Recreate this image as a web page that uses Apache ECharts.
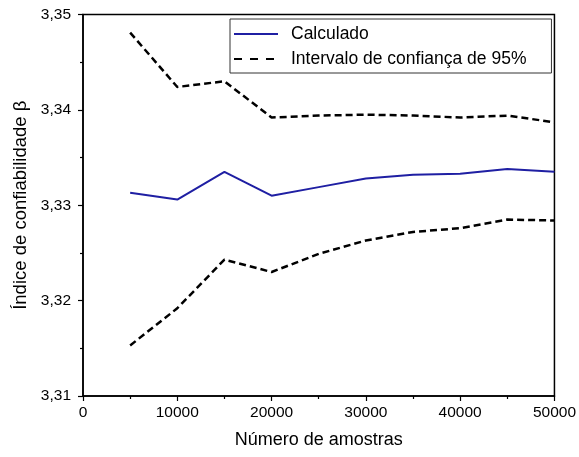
<!DOCTYPE html>
<html>
<head>
<meta charset="utf-8">
<script src="https://cdn.jsdelivr.net/npm/echarts@6/dist/echarts.min.js"></script>
<style>
html,body{margin:0;padding:0;background:#fff;}
#chart{width:579px;height:457px;}
</style>
</head>
<body>
<div id="chart"></div>
<script>
const samples = [5000, 10000, 15000, 20000, 25000, 30000, 35000, 40000, 45000, 50000];
const calculated = [3.3313, 3.3306, 3.3335, 3.3310, 3.3319, 3.3328, 3.3332, 3.3333, 3.3338, 3.3335];
const upperCI = [3.3481, 3.3424, 3.3430, 3.3392, 3.3394, 3.3395, 3.3394, 3.3392, 3.3394, 3.3387];
const lowerCI = [3.3153, 3.3192, 3.3243, 3.3230, 3.3249, 3.3263, 3.3272, 3.3276, 3.3285, 3.3284];
const seriesNames = ['Calculado', 'Intervalo de confiança de 95%'];
const xTitle = 'Número de amostras';
const yTitle = 'Índice de confiabilidade β';

const FONT = 'Liberation Sans, Arial, sans-serif';
const pair = (xs, ys) => xs.map((x, i) => [x, ys[i]]);
const dashStyle = { color: '#000', width: 2.5, type: [7, 4] };

const chart = echarts.init(document.getElementById('chart'), null, { renderer: 'canvas' });
chart.setOption({
  animation: false,
  backgroundColor: '#fff',
  grid: { left: 83, right: 22, top: 14.5, bottom: 61, show: true, borderColor: '#000', borderWidth: 1.5, backgroundColor: 'transparent' },
  legend: {
    orient: 'vertical',
    left: 230, top: 19,
    padding: [5, 25, 4, 3],
    itemGap: 5,
    itemWidth: 44,
    itemHeight: 14,
    borderColor: '#333',
    borderWidth: 1,
    backgroundColor: '#fff',
    itemStyle: { opacity: 0 },
    textStyle: { fontFamily: FONT, fontSize: 17.5, color: '#000', lineHeight: 20, padding: [0, 0, 0, 8] },
    data: [
      { name: seriesNames[0] },
      { name: seriesNames[1], lineStyle: { type: [8, 8], width: 2 } }
    ]
  },
  xAxis: {
    type: 'value', min: 0, max: 50000, interval: 10000,
    name: xTitle, nameLocation: 'middle', nameGap: 35,
    nameTextStyle: { fontFamily: FONT, fontSize: 18, color: '#000' },
    axisLine: { show: true, lineStyle: { color: '#000', width: 1.5 } },
    axisTick: { show: true, inside: false, length: 5, lineStyle: { color: '#000', width: 1.2 } },
    minorTick: { show: true, splitNumber: 2, length: 3, lineStyle: { color: '#000', width: 1.2 } },
    axisLabel: { fontFamily: FONT, fontSize: 15.5, color: '#000', margin: 9, formatter: v => String(v) },
    splitLine: { show: false }
  },
  yAxis: {
    type: 'value', min: 3.31, max: 3.35, interval: 0.01,
    name: yTitle, nameLocation: 'middle', nameGap: 45, nameRotate: 90,
    nameTextStyle: { fontFamily: FONT, fontSize: 18.5, color: '#000' },
    axisLine: { show: true, lineStyle: { color: '#000', width: 1.5 } },
    axisTick: { show: true, inside: false, length: 5, lineStyle: { color: '#000', width: 1.2 } },
    minorTick: { show: true, splitNumber: 2, length: 3, lineStyle: { color: '#000', width: 1.2 } },
    axisLabel: { fontFamily: FONT, fontSize: 15.5, color: '#000', margin: 12, formatter: v => v.toFixed(2).replace('.', ',') },
    splitLine: { show: false }
  },
  series: [
    { name: seriesNames[0], type: 'line', data: pair(samples, calculated), symbol: 'none', lineStyle: { color: '#1f1fa3', width: 2 }, itemStyle: { color: '#1f1fa3' } },
    { name: seriesNames[1], type: 'line', data: pair(samples, upperCI), symbol: 'none', lineStyle: dashStyle, itemStyle: { color: '#000' } },
    { name: seriesNames[1], type: 'line', data: pair(samples, lowerCI), symbol: 'none', lineStyle: dashStyle, itemStyle: { color: '#000' } }
  ]
});
</script>
</body>
</html>
